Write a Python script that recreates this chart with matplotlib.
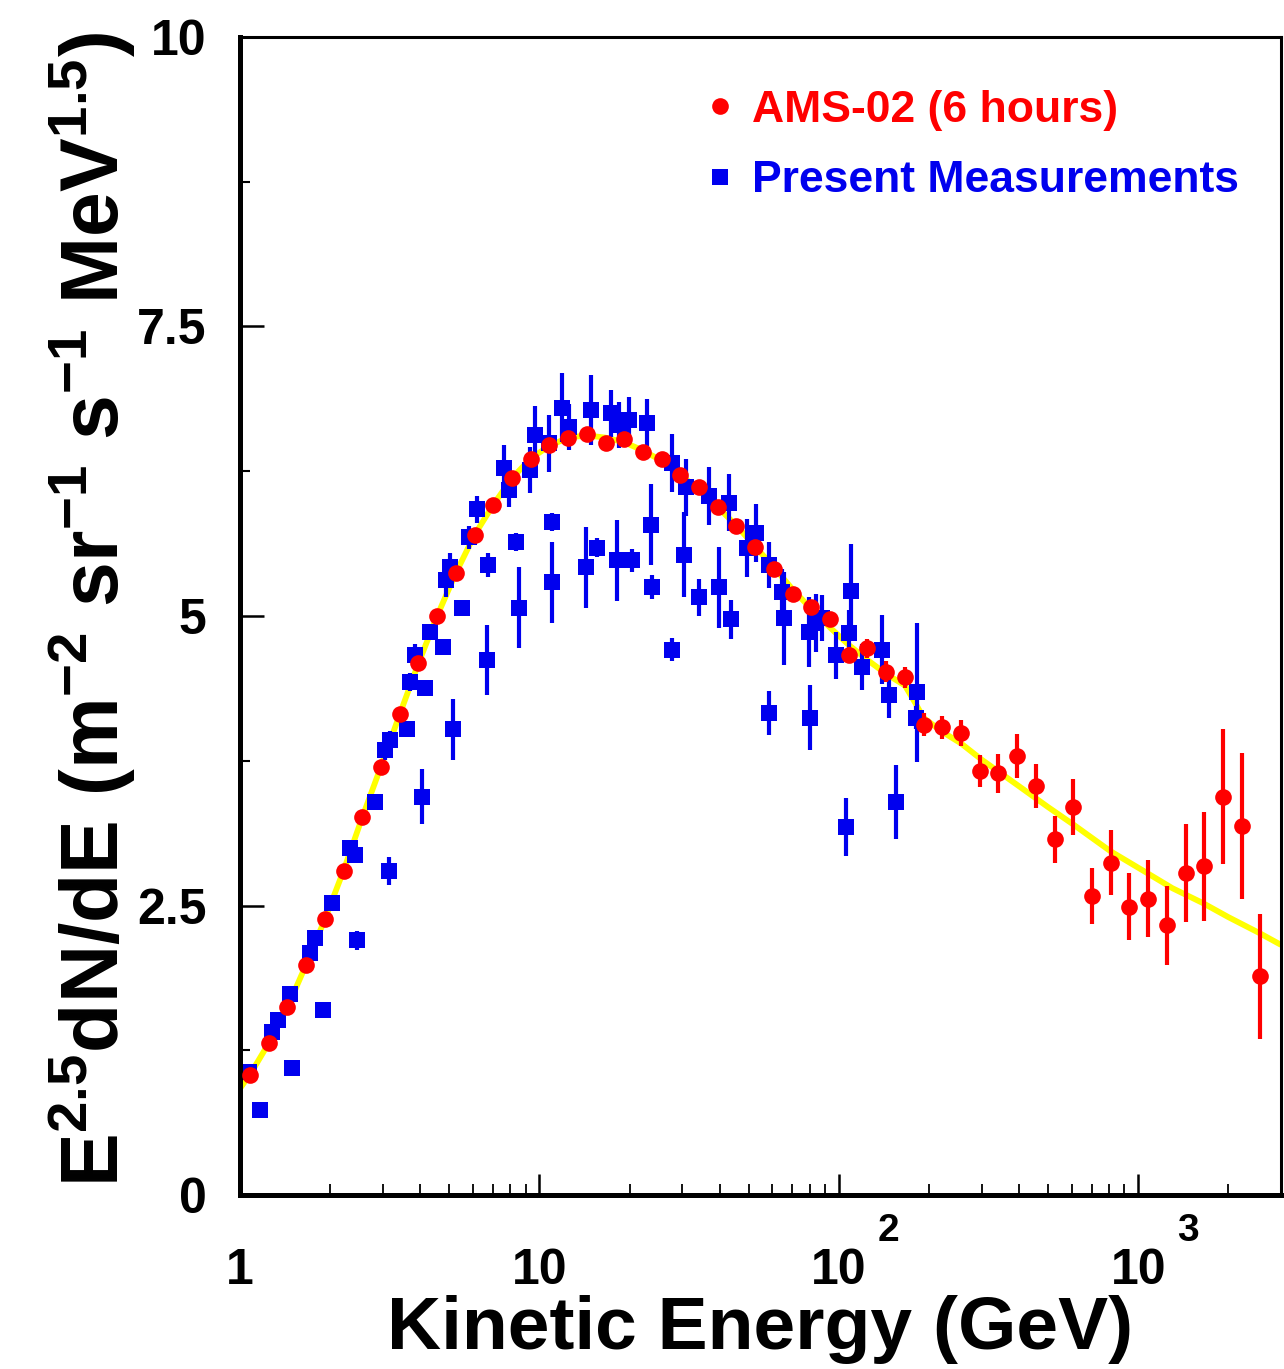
import matplotlib
matplotlib.use("Agg")
import matplotlib.pyplot as plt
from matplotlib import font_manager as fm
from matplotlib.lines import Line2D
from matplotlib.ticker import FixedLocator, NullFormatter

# ---------------- data ----------------
ams_x = [1.080, 1.247, 1.440, 1.663, 1.920, 2.217, 2.560, 2.957, 3.415, 3.943,
         4.553, 5.258, 6.072, 7.012, 8.097, 9.350, 10.80, 12.47, 14.40, 16.63,
         19.20, 22.17, 25.60, 29.57, 34.15, 39.43, 45.53, 52.58, 60.72, 70.12,
         80.97, 93.50, 108.0, 124.7, 144.0, 166.3, 192.0, 221.7, 256.0, 295.7,
         341.5, 394.3, 455.3, 525.8, 607.2, 701.2, 809.7, 935.0, 1080, 1247,
         1440, 1663, 1920, 2217, 2560]
ams_y = [1.04, 1.31, 1.62, 1.99, 2.38, 2.80, 3.26, 3.70, 4.15, 4.59,
         5.00, 5.37, 5.70, 5.96, 6.19, 6.36, 6.48, 6.54, 6.57, 6.49,
         6.53, 6.42, 6.36, 6.22, 6.11, 5.94, 5.78, 5.60, 5.41, 5.19,
         5.08, 4.97, 4.66, 4.72, 4.52, 4.47, 4.06, 4.04, 3.99, 3.66,
         3.64, 3.79, 3.53, 3.07, 3.35, 2.58, 2.87, 2.49, 2.56, 2.33,
         2.78, 2.84, 3.44, 3.19, 1.89]
ams_err = [0.03, 0.03, 0.03, 0.03, 0.03, 0.03, 0.03, 0.03, 0.03, 0.03,
           0.03, 0.03, 0.03, 0.03, 0.03, 0.03, 0.03, 0.03, 0.03, 0.03,
           0.03, 0.03, 0.03, 0.03, 0.03, 0.03, 0.03, 0.03, 0.04, 0.05,
           0.05, 0.06, 0.07, 0.08, 0.09, 0.09, 0.10, 0.10, 0.11, 0.14,
           0.17, 0.19, 0.19, 0.20, 0.24, 0.24, 0.28, 0.29, 0.33, 0.34,
           0.42, 0.47, 0.58, 0.63, 0.54]

meas_x = [1.07, 1.17, 1.28, 1.34, 1.47, 1.49, 1.71, 1.78, 1.89, 2.03,
          2.33, 2.42, 2.45, 2.82, 3.04, 3.14, 3.16, 3.60, 3.69, 3.83,
          4.04, 4.14, 4.30, 4.75, 4.86, 5.01, 5.13, 5.50, 5.84, 6.17,
          6.66, 6.71, 7.64, 7.94, 8.38, 8.58, 9.33, 9.70, 10.8, 11.05,
          11.05, 11.9, 12.6, 14.3, 14.9, 15.6, 17.4, 18.1, 18.5, 19.95,
          20.4, 22.9, 23.6, 23.8, 27.8, 27.8, 30.4, 30.9, 34.2, 36.9,
          39.8, 43.0, 43.6, 49.4, 52.9, 58.4, 58.4, 64.6, 65.6, 79.4,
          80.1, 83.8, 87.8, 97.7, 105.5, 108.0, 109.6, 119.3, 139.0, 146.8,
          155.0, 180.5, 182.0]
meas_y = [1.06, 0.73, 1.41, 1.51, 1.74, 1.10, 2.09, 2.22, 1.60, 2.52,
          3.00, 2.94, 2.20, 3.39, 3.84, 2.80, 3.93, 4.02, 4.43, 4.66,
          3.44, 4.38, 4.86, 4.73, 5.31, 5.42, 4.02, 5.07, 5.68, 5.92,
          4.62, 5.44, 6.28, 6.09, 5.64, 5.07, 6.26, 6.56, 6.49, 5.81,
          5.29, 6.80, 6.63, 5.42, 6.78, 5.59, 6.75, 5.48, 6.65, 6.69,
          5.48, 6.67, 5.79, 5.25, 4.71, 6.32, 5.53, 6.11, 5.16, 6.04,
          5.25, 5.98, 4.97, 5.59, 5.72, 5.44, 4.16, 5.21, 4.98, 4.86,
          4.12, 4.94, 4.98, 4.66, 3.18, 4.85, 5.22, 4.56, 4.71, 4.32,
          3.39, 4.12, 4.34]
meas_err = [0.03, 0.03, 0.03, 0.03, 0.03, 0.03, 0.04, 0.04, 0.06, 0.05,
            0.05, 0.05, 0.08, 0.06, 0.08, 0.12, 0.08, 0.06, 0.08, 0.10,
            0.24, 0.06, 0.06, 0.06, 0.15, 0.12, 0.26, 0.06, 0.10, 0.12,
            0.30, 0.10, 0.20, 0.15, 0.08, 0.35, 0.20, 0.25, 0.25, 0.08,
            0.35, 0.30, 0.20, 0.35, 0.30, 0.08, 0.20, 0.35, 0.20, 0.20,
            0.10, 0.20, 0.35, 0.10, 0.10, 0.25, 0.37, 0.25, 0.16, 0.25,
            0.35, 0.25, 0.17, 0.25, 0.25, 0.20, 0.19, 0.20, 0.40, 0.30,
            0.28, 0.25, 0.20, 0.20, 0.25, 0.20, 0.40, 0.20, 0.30, 0.20,
            0.32, 0.10, 0.60]

fit_x = [1.0, 1.08, 1.247, 1.44, 1.663, 1.92, 2.217, 2.56, 2.957, 3.415,
         3.943, 4.553, 5.258, 6.072, 7.012, 8.097, 9.35, 10.8, 12.47, 14.4,
         16.63, 19.2, 22.17, 25.6, 29.57, 34.15, 39.43, 45.53, 52.58, 60.72,
         70.12, 80.97, 93.5, 108.0, 124.7, 144.0, 166.3, 180.0, 192.0, 221.7,
         256.0, 300.0, 400.0, 500.0, 607.0, 807.0, 1072.0, 1300.0, 1648.0, 2000.0,
         2550.0, 3000.0]
fit_y = [0.92, 1.04, 1.31, 1.62, 1.99, 2.38, 2.80, 3.26, 3.70, 4.15,
         4.59, 5.00, 5.37, 5.70, 5.96, 6.19, 6.36, 6.47, 6.54, 6.56,
         6.54, 6.50, 6.43, 6.34, 6.22, 6.09, 5.94, 5.78, 5.60, 5.42,
         5.23, 5.06, 4.90, 4.75, 4.62, 4.50, 4.40, 4.25, 4.12, 4.00,
         3.90, 3.76, 3.53, 3.35, 3.20, 2.97, 2.78, 2.65, 2.52, 2.40,
         2.26, 2.16]

ytick_vals = [0, 2.5, 5, 7.5, 10]
ytick_labels = ["0", "2.5", "5", "7.5", "10"]
xtick_vals = [1, 10, 100, 1000]
xtick_base = ["1", "10", "10", "10"]
xtick_exp = ["", "", "2", "3"]

label_ams = "AMS-02 (6 hours)"
label_meas = "Present Measurements"
xlabel = "Kinetic Energy (GeV)"
ylabel = r"$\mathrm{E^{2.5}dN/dE\ (m^{-2}\ sr^{-1}\ s^{-1}\ MeV^{1.5})}$"

# ---------------- fonts ----------------
names = {f.name for f in fm.fontManager.ttflist}
if "Liberation Sans Narrow" in names:
    FAM, SC = "Liberation Sans Narrow", 1.2
else:
    FAM, SC = "Liberation Sans", 1.0
plt.rcParams["font.family"] = [FAM, "DejaVu Sans"]
plt.rcParams["font.weight"] = "bold"
plt.rcParams["mathtext.fontset"] = "custom"
for k in ("rm", "it", "bf", "sf"):
    plt.rcParams["mathtext." + k] = FAM + ":bold"

RED = "#ff0000"
BLUE = "#0000ee"
YEL = "#ffff00"

# ---------------- figure ----------------
W, H = 1284, 1369
fig = plt.figure(figsize=(W / 100, H / 100), dpi=100)
ax = fig.add_axes([240 / W, 1 - 1195 / H, 1041 / W, 1158 / H])
ax.set_xscale("log")
ax.set_xlim(1, 3000)
ax.set_ylim(0, 10)

ax.plot(fit_x, fit_y, color=YEL, lw=4.2, zorder=1, solid_capstyle="butt")
ax.errorbar(meas_x, meas_y, yerr=meas_err, fmt="s", color=BLUE, ms=12,
            elinewidth=3.0, capsize=0, zorder=2, mew=0)
ax.errorbar(ams_x, ams_y, yerr=ams_err, fmt="o", color=RED, ms=12,
            elinewidth=3.0, capsize=0, zorder=3, mew=0)

# spines
ax.spines["left"].set_linewidth(3.6)
ax.spines["bottom"].set_linewidth(3.6)
ax.spines["top"].set_linewidth(2.2)
ax.spines["right"].set_linewidth(2.2)

# y ticks
ax.yaxis.set_major_locator(FixedLocator(ytick_vals))
ax.yaxis.set_minor_locator(FixedLocator([1.25, 3.75, 6.25, 8.75]))
ax.set_yticklabels(ytick_labels)
ax.tick_params(axis="y", which="major", direction="in", length=17, width=1.8,
               labelsize=36 * SC, pad=24, left=True, right=False)
ax.tick_params(axis="y", which="minor", direction="in", length=7, width=1.5,
               left=True, right=False)

# x ticks
ax.xaxis.set_major_locator(FixedLocator(xtick_vals))
ax.xaxis.set_minor_formatter(NullFormatter())
ax.set_xticklabels(xtick_base)
ax.tick_params(axis="x", which="major", direction="in", length=15, width=1.8,
               labelsize=36 * SC, pad=38, bottom=True, top=False)
ax.tick_params(axis="x", which="minor", direction="in", length=8, width=1.3,
               bottom=True, top=False)
for xv, e in zip(xtick_vals, xtick_exp):
    if e:
        ax.annotate(e, xy=(xv, 0), xycoords=("data", "axes fraction"),
                    xytext=(36, -26), textcoords="offset points",
                    ha="center", va="center", fontsize=28 * SC,
                    fontweight="bold", annotation_clip=False)

# axis labels
fig.text(760 / W, 1 - 1349 / H, xlabel, ha="center", va="baseline",
         fontsize=54 * SC, fontweight="bold")
fig.text(92 / W, 1 - 609 / H, ylabel, ha="center", va="center",
         rotation=90, fontsize=58 * SC)

# legend
handles = [Line2D([], [], ls="none", marker="o", color=RED, ms=12, mew=0),
           Line2D([], [], ls="none", marker="s", color=BLUE, ms=12, mew=0)]
leg = ax.legend(handles, [label_ams, label_meas], loc="upper left",
                bbox_to_anchor=(707 / W, 1 - 90 / H),
                bbox_transform=fig.transFigure, frameon=False,
                fontsize=32 * SC, borderpad=0, borderaxespad=0,
                handlelength=0.6, handletextpad=0.42, labelspacing=0.66)
for t, c in zip(leg.get_texts(), (RED, BLUE)):
    t.set_color(c)
    t.set_fontweight("bold")

fig.savefig("out.png", dpi=100)
